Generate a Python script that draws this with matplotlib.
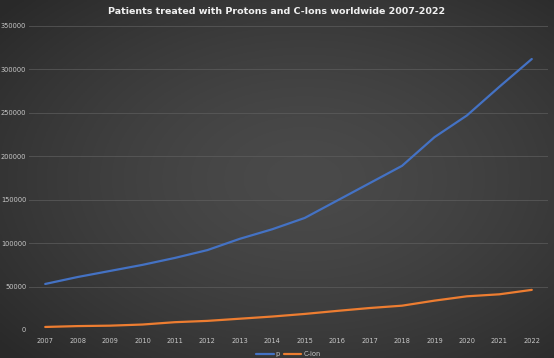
import numpy as np
import matplotlib
matplotlib.use("Agg")
import matplotlib.pyplot as plt

# Datos
anios = ['2007', '2008', '2009', '2010', '2011', '2012', '2013', '2014',
         '2015', '2016', '2017', '2018', '2019', '2020', '2021', '2022']
protones = [53000, 61000, 68000, 75000, 83000, 92000, 105000, 116000,
            129000, 149000, 169000, 189000, 222000, 247000, 280000, 312000]
iones_c = [3500, 4500, 5000, 6300, 9000, 10500, 13000, 15500,
           18500, 22000, 25300, 28000, 33800, 38800, 41100, 46200]
ticks_y = [0, 50000, 100000, 150000, 200000, 250000, 300000, 350000]

fig = plt.figure(figsize=(5.54, 3.58), dpi=100)

# Fondo con degradado radial oscuro
fondo = fig.add_axes([0, 0, 1, 1], zorder=0)
xx, yy = np.meshgrid(np.linspace(-1, 1, 300), np.linspace(-1, 1, 200))
r = np.sqrt(((xx - 0.1) / 1.1) ** 2 + (yy / 1.1) ** 2)
gris = 0.29 - 0.085 * np.clip(r, 0, 1.3) ** 1.5
fondo.imshow(np.dstack([gris, gris, gris]), aspect='auto', extent=[0, 1, 0, 1])
fondo.axis('off')

ax = fig.add_axes([29 / 554, 1 - 330 / 358, 519 / 554, 304 / 358], zorder=1)
ax.patch.set_alpha(0)
x = np.arange(len(anios))
ax.plot(x, protones, color='#4472C4', lw=1.6, label='p', solid_capstyle='round')
ax.plot(x, iones_c, color='#ED7D31', lw=1.6, label='C-ion', solid_capstyle='round')

ax.set_xlim(-0.5, len(anios) - 0.5)
ax.set_ylim(0, 350000)
ax.set_yticks(ticks_y)
ax.set_yticklabels([str(t) for t in ticks_y])
ax.set_xticks(x)
ax.set_xticklabels(anios)
ax.tick_params(colors='#c8c8c8', labelsize=4.8, length=0, pad=6)
ax.tick_params(axis='y', pad=2)
ax.grid(axis='y', color='#5e5e5e', lw=0.7, alpha=0.7)
ax.set_axisbelow(True)
for s in ax.spines.values():
    s.set_visible(False)

fig.text(0.5, 1 - 12 / 358, 'Patients treated with Protons and C-Ions worldwide 2007-2022',
         ha='center', va='center', color='#f0f0f0', fontsize=6.8, fontweight='bold')

leg = ax.legend(loc='center', bbox_to_anchor=(0.5, -(354 - 330) / 304), ncol=2,
                frameon=False, fontsize=4.8, handlelength=2.6, columnspacing=0.6,
                handletextpad=0.3, borderaxespad=0)
for t in leg.get_texts():
    t.set_color('#c8c8c8')

fig.savefig('out.png', dpi=100)
